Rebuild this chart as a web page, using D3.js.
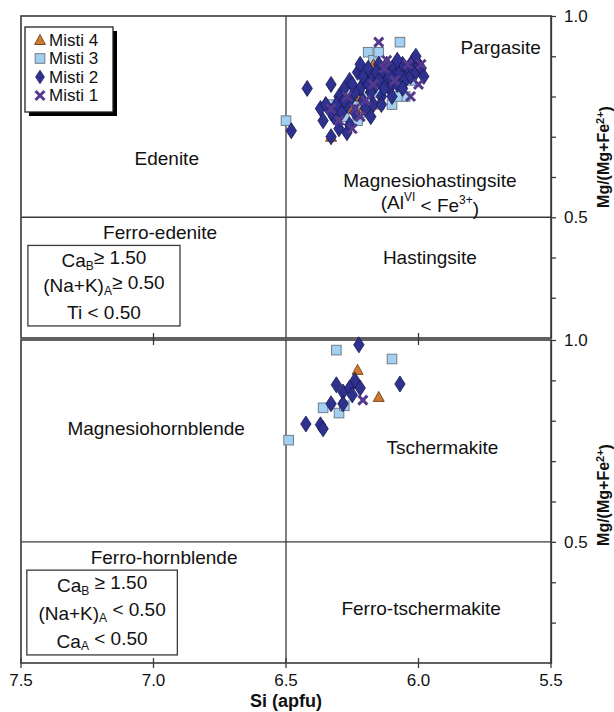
<!DOCTYPE html>
<html>
<head>
<meta charset="utf-8">
<script src="https://cdn.jsdelivr.net/npm/d3@7"></script>
<style>
  body { margin: 0; background: #fff; }
  svg { font-family: "Liberation Sans", Arial, sans-serif; }
  .frame { fill: none; stroke: #3a3a3a; stroke-width: 1.6; }
  .div-line { stroke: #3a3a3a; stroke-width: 1.3; }
  .lbl { font-size: 19px; fill: #111; text-anchor: middle; dominant-baseline: central; }
  .axis text { font-size: 17px; fill: #111; font-family: "Liberation Sans", Arial, sans-serif; }
  .axis line, .axis path { stroke: #3a3a3a; stroke-width: 1.3; }
  .axis-title { font-size: 18px; font-weight: bold; fill: #111; text-anchor: middle; }
  .y-title { font-size: 16px; }
</style>
</head>
<body>
<div id="chart"></div>
<script>
// values, [Si (apfu), Mg/(Mg+Fe2+)]
const siTicks = [7.5, 7.0, 6.5, 6.0, 5.5];
const mgTicks = [0.3, 0.4, 0.5, 0.6, 0.7, 0.8, 0.9, 1.0];
const mgLabels = [1.0, 0.5];
const seriesNames = ['Misti 4', 'Misti 3', 'Misti 2', 'Misti 1'];

// upper panel (Ca-amphiboles with (Na+K)A >= 0.50)
const misti4Top = [[6.33,0.70],[6.20,0.85],[6.18,0.82],[6.22,0.80],[6.15,0.78],[6.25,0.77],
  [6.12,0.86],[6.17,0.88],[6.28,0.80],[6.21,0.77]];
const misti3Top = [[6.07,0.935],[6.19,0.91],[6.17,0.89],[6.15,0.91],[6.18,0.87],[6.50,0.74],
  [6.25,0.79],[6.22,0.76],[6.28,0.75],[6.12,0.83],[6.05,0.80],[6.03,0.84],[6.30,0.77],
  [6.20,0.80],[6.10,0.78],[6.16,0.81],[6.07,0.86],[6.26,0.81],[6.23,0.74],[6.33,0.78],[6.08,0.80]];
const misti2Top = [[6.48,0.715],[6.42,0.82],[6.33,0.83],[6.37,0.77],[6.36,0.74],[6.33,0.70],
  [6.27,0.71],[6.30,0.80],[6.28,0.82],[6.27,0.78],[6.26,0.84],[6.25,0.80],[6.24,0.76],
  [6.23,0.86],[6.22,0.82],[6.21,0.79],[6.20,0.84],[6.19,0.87],[6.18,0.81],[6.17,0.85],
  [6.16,0.83],[6.15,0.88],[6.14,0.80],[6.13,0.86],[6.12,0.84],[6.11,0.82],[6.10,0.87],
  [6.09,0.85],[6.08,0.83],[6.07,0.86],[6.06,0.88],[6.05,0.84],[6.04,0.87],[6.03,0.85],
  [6.02,0.89],[6.01,0.86],[6.00,0.88],[5.99,0.87],[5.98,0.85],[6.01,0.90],[6.29,0.76],
  [6.31,0.78],[6.32,0.75],[6.26,0.73],[6.20,0.77],[6.17,0.78],[6.24,0.81],[6.21,0.85],
  [6.13,0.82],[6.10,0.80],[6.28,0.79],[6.35,0.78],[6.33,0.76],[6.30,0.72],[6.19,0.83],
  [6.16,0.86],[6.25,0.83],[6.22,0.88],[6.12,0.88],[6.08,0.89],[6.06,0.82],[6.15,0.84],
  [6.11,0.85],[6.18,0.75],[6.14,0.78]];
const misti1Top = [[6.15,0.935],[6.12,0.89],[6.04,0.88],[5.99,0.88],[6.00,0.83],[6.03,0.80],
  [6.27,0.80],[6.24,0.77],[6.33,0.77],[6.22,0.75],[6.20,0.79],[6.30,0.74],[6.09,0.84],
  [6.25,0.72],[6.17,0.83],[6.13,0.87]];

// lower panel (Ca-amphiboles with (Na+K)A < 0.50)
const misti4Bot = [[6.23,0.926],[6.15,0.859]];
const misti3Bot = [[6.31,0.975],[6.10,0.953],[6.36,0.832],[6.30,0.819],[6.28,0.837],[6.49,0.752]];
const misti2Bot = [[6.225,0.988],[6.07,0.891],[6.24,0.90],[6.31,0.889],[6.285,0.871],
  [6.26,0.881],[6.25,0.864],[6.22,0.881],[6.285,0.842],[6.33,0.842],[6.425,0.792],
  [6.37,0.79],[6.36,0.78]];
const misti1Bot = [[6.21,0.851]];

const W = 614, H = 712;
const svg = d3.select('#chart').append('svg')
    .attr('width', W)
    .attr('height', H);

const x = d3.scaleLinear().domain([7.5, 5.5]).range([21, 551]);
const yTop = d3.scaleLinear().domain([0.2, 1.0]).range([338, 16]);
const yBot = d3.scaleLinear().domain([0.2, 1.0]).range([663, 340]);

// symbol painters
const shapes = {
  'Misti 4': g => g.append('path').attr('d', 'M0,-5.5L5.5,4.5L-5.5,4.5Z')
      .attr('fill', '#d0782c').attr('stroke', '#5c3414').attr('stroke-width', 0.8),
  'Misti 3': g => g.append('rect').attr('x', -4.8).attr('y', -4.8).attr('width', 9.6).attr('height', 9.6)
      .attr('fill', '#a3d0f0').attr('stroke', '#6e7e8a').attr('stroke-width', 1),
  'Misti 2': g => g.append('path').attr('d', 'M0,-8L5.2,0L0,8L-5.2,0Z')
      .attr('fill', '#2e318f').attr('stroke', '#16184c').attr('stroke-width', 0.8),
  'Misti 1': g => g.append('path').attr('d', 'M-4.5,-4.5L4.5,4.5M-4.5,4.5L4.5,-4.5')
      .attr('fill', 'none').attr('stroke', '#55398c').attr('stroke-width', 3)
};

function drawPanel(y, sets, opts) {
  const [x0, x1] = x.range();
  const [yb, yt] = y.range();

  // field boundaries
  svg.append('line').attr('class', 'div-line')
      .attr('x1', x(6.5)).attr('x2', x(6.5)).attr('y1', yt).attr('y2', yb);
  svg.append('line').attr('class', 'div-line')
      .attr('x1', x0).attr('x2', x1).attr('y1', y(0.5)).attr('y2', y(0.5));

  // right axis
  const yAxis = d3.axisRight(y)
      .tickValues(mgTicks)
      .tickSize(5)
      .tickSizeOuter(0)
      .tickPadding(8)
      .tickFormat(d => mgLabels.includes(d) ? d3.format('.1f')(d) : '');
  svg.append('g').attr('class', 'axis')
      .attr('transform', `translate(${x1},0)`)
      .call(yAxis);

  // x ticks crossing the bottom edge
  svg.append('g').selectAll('line')
      .data(siTicks)
      .join('line')
      .attr('stroke', '#3a3a3a').attr('stroke-width', 1.3)
      .attr('x1', d => x(d)).attr('x2', d => x(d))
      .attr('y1', yb - opts.tickUp).attr('y2', yb + opts.tickDown);

  svg.append('rect').attr('class', 'frame')
      .attr('x', x0).attr('y', yt).attr('width', x1 - x0).attr('height', yb - yt);

  sets.forEach(([name, pts]) => {
    svg.append('g').selectAll('g')
        .data(pts)
        .join('g')
        .attr('transform', d => `translate(${x(d[0])},${y(d[1])})`)
        .each(function () { shapes[name](d3.select(this)); });
  });

  svg.append('text')
      .attr('class', 'axis-title y-title')
      .attr('transform', `translate(${opts.titleX},${opts.titleY}) rotate(-90)`)
      .attr('dy', '0.35em')
      .call(t => {
        t.append('tspan').text('Mg/(Mg+Fe');
        t.append('tspan').attr('dy', '-0.45em').attr('font-size', '11px').text('2+');
        t.append('tspan').attr('dy', '0.45em').text(')');
      });
}

function label(y, si, mg, parts, cls) {
  const t = svg.append('text').attr('class', cls || 'lbl')
      .attr('x', x(si)).attr('y', y(mg));
  parts.forEach(p => {
    if (typeof p === 'string') t.append('tspan').text(p);
    else {
      t.append('tspan').attr('dy', p.sub ? '0.45em' : '-0.45em').attr('font-size', '12px').text(p.t);
      t.append('tspan').attr('dy', p.sub ? '-0.45em' : '0.45em').text(p.after || '');
    }
  });
  return t;
}

function criteriaBox(y, siL, siR, mgTop, mgBot, lines) {
  svg.append('rect')
      .attr('x', x(siL)).attr('y', y(mgTop))
      .attr('width', x(siR) - x(siL)).attr('height', y(mgBot) - y(mgTop))
      .attr('fill', '#fff').attr('stroke', '#3a3a3a').attr('stroke-width', 1.3);
  const mid = (siL + siR) / 2;
  lines.forEach(([mg, parts]) => label(y, mid, mg, parts));
}

// upper panel
drawPanel(yTop, [['Misti 3', misti3Top], ['Misti 4', misti4Top], ['Misti 2', misti2Top], ['Misti 1', misti1Top]],
  {tickUp: 0, tickDown: 0, titleX: 603, titleY: 157});
// lower panel
drawPanel(yBot, [['Misti 3', misti3Bot], ['Misti 4', misti4Bot], ['Misti 2', misti2Bot], ['Misti 1', misti1Bot]],
  {tickUp: 5, tickDown: 5, titleX: 603, titleY: 495});

// ticks on the shared edge between the panels
svg.append('g').selectAll('line')
    .data([7.0, 6.0])
    .join('line')
    .attr('stroke', '#3a3a3a').attr('stroke-width', 1.3)
    .attr('x1', d => x(d)).attr('x2', d => x(d))
    .attr('y1', yTop(0.2) - 5).attr('y2', yBot(1.0) + 5);

// field names, upper panel
label(yTop, 5.69, 0.923, ['Pargasite']);
label(yTop, 6.95, 0.647, ['Edenite']);
label(yTop, 5.957, 0.593, ['Magnesiohastingsite']);
label(yTop, 5.957, 0.538, ['(Al', {t: 'VI', after: ' < Fe'}, {t: '3+', after: ')'}]);
label(yTop, 5.957, 0.401, ['Hastingsite']);
label(yTop, 6.975, 0.463, ['Ferro-edenite']);
criteriaBox(yTop, 7.474, 6.90, 0.43, 0.23, [
  [0.393, ['Ca', {t: 'B', sub: true, after: '≥ 1.50'}]],
  [0.331, ['(Na+K)', {t: 'A', sub: true, after: '≥ 0.50'}]],
  [0.264, ['Ti < 0.50']]
]);

// field names, lower panel
label(yBot, 6.99, 0.782, ['Magnesiohornblende']);
label(yBot, 5.91, 0.735, ['Tschermakite']);
label(yBot, 6.96, 0.463, ['Ferro-hornblende']);
label(yBot, 5.99, 0.337, ['Ferro-tschermakite']);
criteriaBox(yBot, 7.478, 6.91, 0.43, 0.22, [
  [0.392, ['Ca', {t: 'B', sub: true, after: ' ≥ 1.50'}]],
  [0.325, ['(Na+K)', {t: 'A', sub: true, after: ' < 0.50'}]],
  [0.255, ['Ca', {t: 'A', sub: true, after: ' < 0.50'}]]
]);

// bottom tick labels + title
svg.append('g').selectAll('text')
    .data(siTicks)
    .join('text')
    .attr('x', d => x(d)).attr('y', yBot(0.2) + 17)
    .attr('text-anchor', 'middle').attr('dominant-baseline', 'central')
    .attr('font-size', 17).attr('fill', '#111')
    .text(d => d3.format('.1f')(d));
svg.append('text').attr('class', 'axis-title')
    .attr('x', x(6.5)).attr('y', 707)
    .text('Si (apfu)');

// legend with drop shadow
const legend = svg.append('g').attr('transform', 'translate(25,27)');
legend.append('rect').attr('x', 4).attr('y', 4).attr('width', 88).attr('height', 85).attr('fill', '#000');
legend.append('rect').attr('width', 88).attr('height', 85)
    .attr('fill', '#fff').attr('stroke', '#222').attr('stroke-width', 1.3);
const item = legend.selectAll('.item')
    .data(seriesNames)
    .join('g')
    .attr('class', 'item')
    .attr('transform', (d, i) => `translate(15,${13 + i * 18.5})`);
item.each(function (d) {
  const g = d3.select(this).append('g').attr('transform', d === 'Misti 2' ? 'scale(0.85)' : null);
  shapes[d](g);
});
item.append('text')
    .attr('x', 9).attr('dy', '0.35em')
    .attr('font-size', 17).attr('fill', '#111')
    .text(d => d);
</script>
</body>
</html>
